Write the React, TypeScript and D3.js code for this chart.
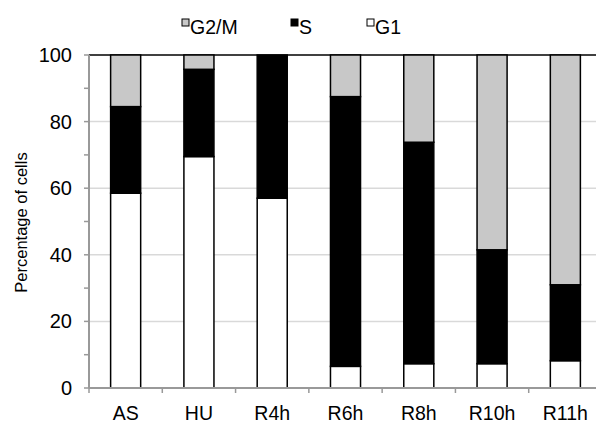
import { useEffect, useRef } from 'react';
import * as d3 from 'd3';

const categories = ['AS', 'HU', 'R4h', 'R6h', 'R8h', 'R10h', 'R11h'];
const g1 = [58.5, 69.5, 57, 6.5, 7.3, 7.3, 8.2];
const sPhase = [26, 26.2, 43, 81, 66.5, 34.2, 22.8];
const g2m = [15.5, 4.3, 0, 12.5, 26.2, 58.5, 69];
const yTicks = [0, 20, 40, 60, 80, 100];

const seriesKeys = ['G1', 'S', 'G2/M'];
const fills: Record<string, string> = { G1: '#ffffff', S: '#000000', 'G2/M': '#c8c8c8' };
const legendOrder = ['G2/M', 'S', 'G1'];

export default function App() {
  const svgRef = useRef<SVGSVGElement>(null);

  useEffect(() => {
    const svg = d3.select(svgRef.current);
    svg.selectAll('*').remove();

    const W = 596, H = 427;
    const margin = { top: 55, left: 89, bottom: 39 };
    const innerW = 513;
    const innerH = H - margin.top - margin.bottom;
    const font = 'Liberation Sans, Arial, sans-serif';

    const rows = categories.map((c, i) => ({ cat: c, G1: g1[i], S: sPhase[i], 'G2/M': g2m[i] }));
    const stacked = d3.stack<any>().keys(seriesKeys)(rows);

    const x = d3.scaleBand().domain(categories).range([0, innerW]).paddingInner(0.59).paddingOuter(0.295);
    const y = d3.scaleLinear().domain([0, 100]).range([innerH, 0]);

    const g = svg.append('g').attr('transform', `translate(${margin.left},${margin.top})`);

    // gridlines
    yTicks.filter(v => v > 0 && v < 100).forEach(v => {
      g.append('line')
        .attr('x1', 0).attr('x2', innerW)
        .attr('y1', y(v)).attr('y2', y(v))
        .attr('stroke', '#d9d9d9').attr('stroke-width', 1.5);
    });
    // top line
    g.append('line')
      .attr('x1', 0).attr('x2', innerW)
      .attr('y1', y(100)).attr('y2', y(100))
      .attr('stroke', '#000').attr('stroke-width', 1.5);

    // bars
    stacked.forEach(layer => {
      g.append('g').selectAll('rect')
        .data(layer)
        .join('rect')
        .attr('x', d => x(d.data.cat)!)
        .attr('width', x.bandwidth())
        .attr('y', d => y(d[1]))
        .attr('height', d => y(d[0]) - y(d[1]))
        .attr('fill', fills[layer.key])
        .attr('stroke', d => (d[1] - d[0] > 0 ? '#000' : 'none'))
        .attr('stroke-width', 1.5);
    });

    // y axis
    g.append('line').attr('x1', 0).attr('x2', 0).attr('y1', 0).attr('y2', innerH)
      .attr('stroke', '#999').attr('stroke-width', 2);
    d3.range(0, 101, 10).forEach(v => {
      g.append('line')
        .attr('x1', -5).attr('x2', 0)
        .attr('y1', y(v)).attr('y2', y(v))
        .attr('stroke', '#999').attr('stroke-width', 1.5);
    });
    yTicks.forEach(v => {
      g.append('text')
        .attr('x', -17).attr('y', y(v) + 7)
        .attr('text-anchor', 'end')
        .attr('font-family', font).attr('font-size', 20)
        .text(v);
    });

    // x axis
    g.append('line').attr('x1', 0).attr('x2', innerW).attr('y1', innerH).attr('y2', innerH)
      .attr('stroke', '#999').attr('stroke-width', 2);
    categories.forEach((c, i) => {
      const tx = x.step() * i;
      g.append('line')
        .attr('x1', tx).attr('x2', tx)
        .attr('y1', innerH).attr('y2', innerH + 5)
        .attr('stroke', '#999').attr('stroke-width', 1.5);
      g.append('text')
        .attr('x', x(c)! + x.bandwidth() / 2).attr('y', innerH + 32)
        .attr('text-anchor', 'middle')
        .attr('font-family', font).attr('font-size', 19.5)
        .text(c);
    });

    // y label
    svg.append('text')
      .attr('transform', 'rotate(-90)')
      .attr('x', -(margin.top + innerH / 2) - 1).attr('y', 27)
      .attr('text-anchor', 'middle')
      .attr('font-family', font).attr('font-size', 16.5)
      .text('Percentage of cells');

    // legend
    const legendX = [182, 291, 367];
    legendOrder.forEach((k, i) => {
      svg.append('rect')
        .attr('x', legendX[i]).attr('y', 19)
        .attr('width', 7).attr('height', 7)
        .attr('fill', fills[k]).attr('stroke', '#000').attr('stroke-width', 1);
      svg.append('text')
        .attr('x', legendX[i] + 8).attr('y', 34)
        .attr('font-family', font).attr('font-size', 19.5)
        .text(k);
    });
  }, []);

  return (
    <svg
      ref={svgRef}
      width={596}
      height={427}
      style={{ position: 'absolute', left: 0, top: 0, background: '#fff' }}
    />
  );
}
